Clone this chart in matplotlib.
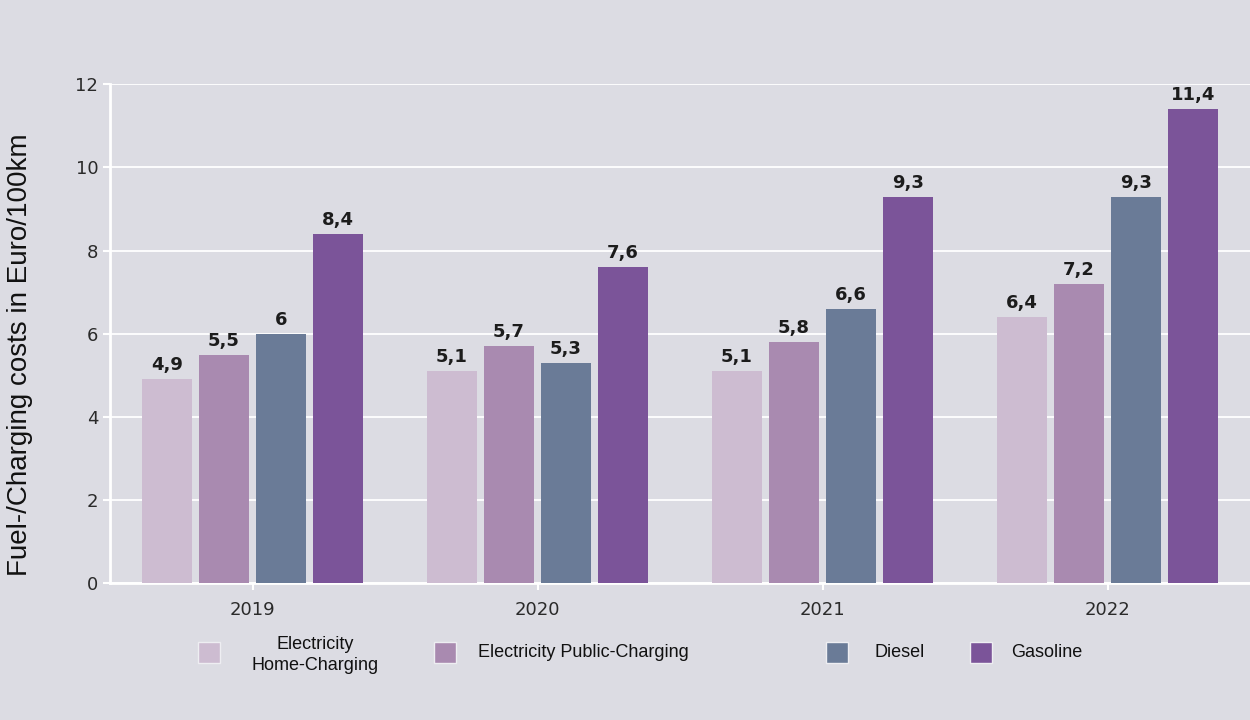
import numpy as np
import matplotlib.pyplot as plt
from matplotlib.patches import Rectangle

years = ["2019", "2020", "2021", "2022"]
series = ["Electricity\nHome-Charging", "Electricity Public-Charging", "Diesel", "Gasoline"]
home = [4.9, 5.1, 5.1, 6.4]
public = [5.5, 5.7, 5.8, 7.2]
diesel = [6.0, 5.3, 6.6, 9.3]
gasoline = [8.4, 7.6, 9.3, 11.4]
colors = ["#cdbcd1", "#a98ab0", "#6a7b97", "#7b5499"]

bg = "#dcdce3"
fig = plt.figure(figsize=(12.5, 7.2), dpi=100, facecolor=bg)
ax = fig.add_axes([0.088, 0.19, 0.912, 0.693], facecolor=bg)

x = np.arange(len(years))
width = 0.172
step = 0.2
for i, (vals, c) in enumerate(zip([home, public, diesel, gasoline], colors)):
    pos = x + (i - 1.5) * step
    ax.bar(pos, vals, width, color=c, zorder=3)
    for p, v in zip(pos, vals):
        ax.text(p, v + 0.12, f"{v:g}".replace(".", ","), ha="center", va="bottom",
                fontsize=13, fontweight="bold", color="#1c1c1c", zorder=4)

ax.set_xlim(-0.5, 3.5)
ax.set_ylim(0, 12)
ax.set_yticks(range(0, 13, 2))
ax.set_xticks(x)
ax.set_xticklabels(years)
ax.grid(axis="y", color="white", linewidth=1.3, zorder=0)
for s in ["top", "right"]:
    ax.spines[s].set_visible(False)
for s in ["left", "bottom"]:
    ax.spines[s].set_color("white")
    ax.spines[s].set_linewidth(2)
ax.tick_params(colors="white", labelcolor="#2a2a2a", labelsize=13, length=5, width=1.5)
ax.tick_params(axis="x", pad=8)

fig.text(0.016, 0.507, "Fuel-/Charging costs in Euro/100km", rotation=90, ha="center",
         va="center", fontsize=20, family="Liberation Sans", color="#111111")

# legend drawn by hand: squares and labels at uneven spacing
legend_x = [0.158, 0.347, 0.661, 0.776]
text_x = [0.252, 0.382, 0.700, 0.809]
ly = 0.094
for i, (lab, c) in enumerate(zip(series, colors)):
    fig.add_artist(Rectangle((legend_x[i], ly - 0.0155), 0.0176, 0.0305, transform=fig.transFigure,
                             facecolor=c, edgecolor="#eeeef2", linewidth=1))
    ha = "center" if i == 0 else "left"
    fig.text(text_x[i], ly - (0.004 if i == 0 else 0), lab, ha=ha, va="center", fontsize=13,
             family="Liberation Sans", color="#111111", linespacing=1.35)

fig.savefig("out.png", dpi=100, facecolor=bg)
